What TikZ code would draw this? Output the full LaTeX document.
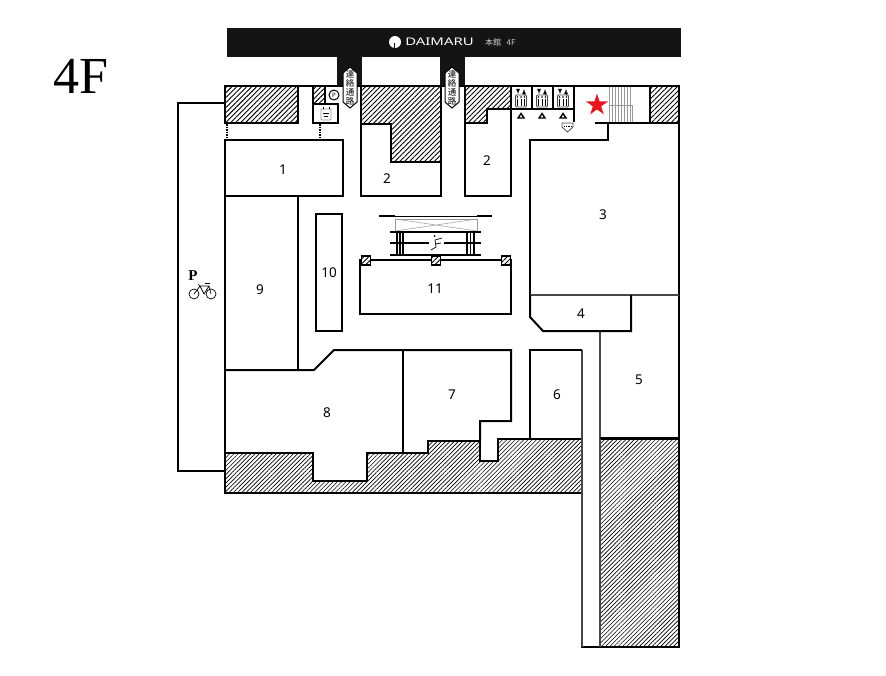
\documentclass[tikz,border=0pt]{standalone}
\usepackage{fontspec}
\setmainfont{Liberation Serif}
\setsansfont{Noto Sans}
\newfontfamily\cjk{Noto Sans CJK JP}
\usetikzlibrary{patterns.meta,shapes.geometric}
\definecolor{starred}{HTML}{E8141E}
\definecolor{wallgrey}{gray}{0.28}
\definecolor{stairgrey}{gray}{0.6}
\definecolor{barblack}{gray}{0.08}
\tikzset{
	wall/.style={line width=2pt, line join=miter},
	thinwall/.style={line width=1.6pt, draw=wallgrey},
	hatched/.style={line width=2pt, pattern={Lines[angle=45,distance=3.5pt,line width=0.9pt]}},
	finehatched/.style={line width=2pt, pattern={Lines[angle=45,distance=3pt,line width=0.65pt]}},
	shop/.style={font=\sffamily\fontsize{13.5}{14}\selectfont, inner sep=0pt},
	linkmark/.style={font=\cjk\fontsize{8.5}{8.9}\selectfont, align=center, inner sep=0pt},
}
\begin{document}
\begin{tikzpicture}[x=1pt,y=-1pt]
\useasboundingbox (0,0) rectangle (886,675);

%title
\node[font=\fontsize{52}{52}\selectfont, inner sep=0pt] (floor) at (80.5,76) {4F};

%top bar
\fill[barblack] (227,28) rectangle (681,57);
\fill[barblack] (337,57) rectangle (362,87);
\fill[barblack] (440,57) rectangle (465,87);
\fill[white] (395,42) circle (6pt);
\fill[barblack] (393.5,43) rectangle (394.5,48);
\node[text=white, font=\sffamily\fontsize{10.5}{10.5}\selectfont, inner sep=0pt, anchor=center, xscale=1.42] (logo) at (439.5,42) {DAIMARU};
\node[text=white!80!black, font=\cjk\fontsize{8}{8}\selectfont, inner sep=0pt, anchor=west] (floorname) at (485,42) {本館\ \ \ 4F};

%hatched walls
\draw[hatched] (225,86) rectangle (298,123);
\draw[hatched] (313,86) rectangle (325,104);
\draw[hatched] (361,86) -- (441,86) -- (441,162) -- (391,162) -- (391,124) -- (361,124) -- cycle;
\draw[hatched] (465,86) -- (511,86) -- (511,109) -- (487,109) -- (487,123) -- (465,123) -- cycle;
\draw[hatched] (650,86) rectangle (679,123);
\draw[finehatched] (225,453) -- (313,453) -- (313,481) -- (367,481) -- (367,453) -- (428,453) -- (428,441) -- (480,441) -- (480,461) -- (498,461) -- (498,439) -- (582,439) -- (582,493) -- (225,493) -- cycle;
\draw[finehatched] (600,439) rectangle (679,647);

%outer walls
\draw[wall] (225,86) -- (680,86);
\draw[wall, line width=2.5pt] (679,86) -- (679,647) -- (581,647);
\draw[wall] (225,103) -- (178,103) -- (178,471) -- (225,471);
\draw[wall] (225,140) -- (225,493);
\draw[thinwall] (582,350) -- (582,647);
\draw[thinwall] (600,331) -- (600,647);

%shops
\draw[wall] (225,140) rectangle (343,196);
\draw[wall] (298,196) -- (298,370);
\draw[wall] (316,214) rectangle (342,331);
\draw[wall] (360,260) -- (360,314) -- (511,314) -- (511,260) -- cycle;
\draw[wall] (361,124) -- (361,196) -- (441,196) -- (441,162);
\draw[wall] (464.5,123) -- (464.5,196) -- (511,196) -- (511,109);
\draw[wall] (574,86) -- (574,122);
\draw[wall] (595,123) -- (608,123) -- (608,140) -- (530,140) -- (530,295);
\draw[wall] (608,123) -- (679,123);
\draw[thinwall] (530,295) -- (679,295);
\draw[wall] (530,295) -- (530,317) -- (543,331) -- (631,331) -- (631,295);
\draw[wall] (530,438) -- (530,350) -- (582,350);
\draw[wall] (225,370) -- (314,370) -- (334,350) -- (511,350) -- (511,421) -- (480,421) -- (480,441);
\draw[wall] (403,350) -- (403,453);
\draw[wall] (600,438) -- (679,438);

%dotted links
\draw[line width=1.5pt, densely dotted] (227,124) -- (227,140);
\draw[line width=1.5pt, densely dotted] (320,124) -- (320,140);

%toilet and parking signs
\draw[wall, fill=white] (313,104) rectangle (338,123);
\draw[stairgrey, line width=0.8pt, rounded corners=1pt] (321,109) rectangle (331,120);
\draw[line width=0.6pt] (323,107) -- (323,109) (329,107) -- (329,109) (323,113) -- (329,113) (324,116) -- (328,116);
\node[draw, circle, line width=1pt, inner sep=0pt, minimum size=10pt, font=\sffamily\fontsize{6}{6}\selectfont] (parking) at (334,95) {P};

%link markers
\foreach \x/\name in {350/linkone,452/linktwo} {
	\draw[line width=1pt, fill=white] (\x,67) -- (\x+7,73) -- (\x+7,102) -- (\x,108) -- (\x-7,102) -- (\x-7,73) -- cycle;
	\node[linkmark] (\name) at (\x,87.5) {連\\絡\\通\\路};
}

%lifts
\foreach \x in {511,532,553} {
	\draw[wall] (\x,86) rectangle (\x+21,109);
	\draw[line width=0.9pt, draw=wallgrey, rounded corners=1pt] (\x+4.5,95) rectangle (\x+15.5,107);
	\foreach \i in {0,1,2} {
		\draw[line width=1pt] (\x+6.5+3.5*\i,99) -- (\x+6.5+3.5*\i,106);
		\fill (\x+6.5+3.5*\i,97) circle (0.8pt);
	}
	\draw[line width=0.8pt, -latex] (\x+7,89) -- (\x+7,94);
	\draw[line width=0.8pt, -latex] (\x+13,94) -- (\x+13,89);
	\draw[line width=1.4pt] (\x+7,118) -- (\x+10,113.5) -- (\x+13,118) -- cycle;
}

%stairs
\foreach \x in {609,612,615,618,621,624,627,630} {
	\draw[stairgrey, line width=0.6pt] (\x,87) -- (\x,122);
}
\draw[stairgrey, line width=0.6pt] (609,105) -- (632,105) -- (632,122);
\node[star, star points=5, star point ratio=2.618, fill=starred, inner sep=0pt, minimum size=23pt] (here) at (597,105) {};
\draw[wallgrey, line width=0.8pt] (562,123) -- (573,123) -- (573,127) -- (567.5,132) -- (562,127) -- cycle;
\draw[line width=1.2pt, densely dotted] (564,126.5) -- (571,126.5);

%escalators
\draw[line width=1pt] (395,216) -- (477,216);
\draw[line width=2.5pt] (379,216) -- (395,216);
\draw[line width=2.5pt] (477,216) -- (492,216);
\draw[stairgrey, line width=0.8pt] (395,219) rectangle (477,231);
\draw[stairgrey, line width=0.5pt] (395,219) -- (477,231) (395,231) -- (477,219);
\foreach \y in {232,243,255} {
	\draw[line width=1.5pt] (390,\y) -- (481,\y);
}
\foreach \x in {397,400,403,467,470.5,474} {
	\draw[line width=1.5pt] (\x,232) -- (\x,255);
}
\fill[white] (429,236) rectangle (444,251);
\draw[line width=0.7pt] (431,250) -- (436,247) -- (435,240) -- (442,238) (436,244) -- (441,243);
\fill (434.5,236) circle (1pt);

%pillars
\foreach \x in {366,436,506} {
	\draw[line width=1.5pt, fill=white] (\x-4.5,256) rectangle (\x+4.5,265);
	\draw[hatched, line width=1.5pt] (\x-4.5,256) rectangle (\x+4.5,265);
}

%cycle parking
\node[font=\bfseries\fontsize{15}{15}\selectfont, inner sep=0pt] (cycle) at (193,276) {P};
\draw[line width=0.7pt] (194,294) circle (5pt) (211,294) circle (5pt);
\draw[line width=0.7pt] (194,294) -- (200,286) -- (209,286) -- (211,294) (200,286) -- (204,294) -- (209,286) (198,284) -- (200,286) (205,283.5) -- (210,283.5);

%numbers
\node[shop] (one) at (283,170) {1};
\node[shop] (twoleft) at (387,179) {2};
\node[shop] (tworight) at (487,161) {2};
\node[shop] (three) at (603,215) {3};
\node[shop] (four) at (581,314) {4};
\node[shop] (five) at (639,380) {5};
\node[shop] (six) at (557,395) {6};
\node[shop] (seven) at (452,395) {7};
\node[shop] (eight) at (327,413) {8};
\node[shop] (nine) at (260,290) {9};
\node[shop] (ten) at (329,273) {10};
\node[shop] (eleven) at (435,289) {11};
\end{tikzpicture}
\end{document}
